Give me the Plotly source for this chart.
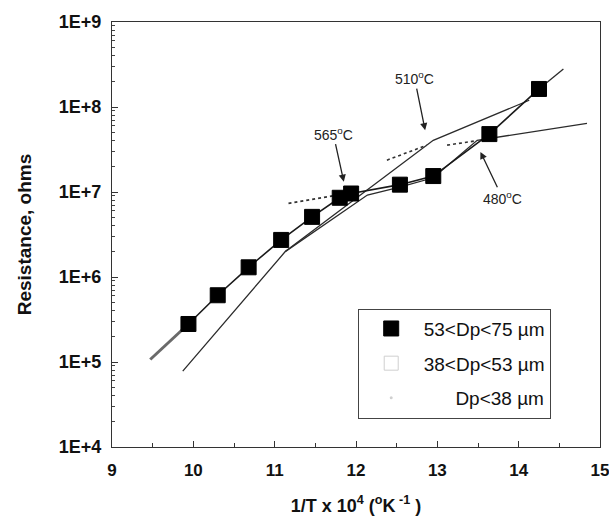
import plotly.graph_objects as go

# ---- data ----
# measured points, 53<Dp<75 um
x_sq = [9.94, 10.30, 10.68, 11.08, 11.46, 11.80, 11.94, 12.54, 12.95, 13.64, 14.25]
y_sq = [2.8e5, 6.1e5, 1.30e6, 2.73e6, 5.1e6, 8.55e6, 9.6e6, 1.22e7, 1.54e7, 4.8e7, 1.63e8]

# extensions of the line through the squares
x_ext_lo = [9.47, 9.94]
y_ext_lo = [1.07e5, 2.8e5]
x_ext_hi = [14.25, 14.55]
y_ext_hi = [1.63e8, 2.8e8]

# fitted line with 510 C break
x_fit_b = [9.87, 11.13, 12.95, 14.13]
y_fit_b = [7.8e4, 1.99e6, 4.06e7, 1.2e8]

# fitted line with 480 C break
x_fit_c = [11.13, 12.14, 12.55, 12.95, 13.49, 14.84]
y_fit_c = [1.99e6, 9.2e6, 1.15e7, 1.47e7, 4.06e7, 6.4e7]

# dotted extrapolations
x_dot_565 = [11.17, 11.80]
y_dot_565 = [7.35e6, 9.3e6]
x_dot_510 = [12.38, 12.87]
y_dot_510 = [2.37e7, 3.55e7]
x_dot_480 = [13.12, 13.46]
y_dot_480 = [3.56e7, 3.98e7]

# annotation values: label, text pos (x, log10 y), arrow head (x, log10 y)
ann_labels = ["565<sup>o</sup>C", "510<sup>o</sup>C", "480<sup>o</sup>C"]
ann_text_x = [11.72, 12.72, 13.80]
ann_text_ly = [7.687, 8.341, 6.932]
ann_head_x = [11.85, 12.85, 13.53]
ann_head_ly = [7.12, 7.727, 7.472]

y_tickvals = [1e4, 1e5, 1e6, 1e7, 1e8, 1e9]
y_ticktext = ["1E+4", "1E+5", "1E+6", "1E+7", "1E+8", "1E+9"]
x_tickvals = [9, 10, 11, 12, 13, 14, 15]

legend_names = ["53&lt;Dp&lt;75 µm", "38&lt;Dp&lt;53 µm", "\u00a0" * 6 + "Dp&lt;38 µm"]

FONT = "Liberation Sans, Arial, Helvetica, sans-serif"
LINE = "#2b2b2b"

fig = go.Figure()

# fitted lines (no legend)
fig.add_trace(go.Scatter(x=x_fit_b, y=y_fit_b, mode="lines", showlegend=False,
                         line=dict(color=LINE, width=1.3), hoverinfo="skip"))
fig.add_trace(go.Scatter(x=x_fit_c, y=y_fit_c, mode="lines", showlegend=False,
                         line=dict(color=LINE, width=1.3), hoverinfo="skip"))
for xd, yd in [(x_dot_565, y_dot_565), (x_dot_510, y_dot_510), (x_dot_480, y_dot_480)]:
    fig.add_trace(go.Scatter(x=xd, y=yd, mode="lines", showlegend=False,
                             line=dict(color="#333333", width=1.6, dash="dot"), hoverinfo="skip"))
fig.add_trace(go.Scatter(x=x_ext_lo, y=y_ext_lo, mode="lines", showlegend=False,
                         line=dict(color="#6a6a6a", width=3), hoverinfo="skip"))
fig.add_trace(go.Scatter(x=x_ext_hi, y=y_ext_hi, mode="lines", showlegend=False,
                         line=dict(color=LINE, width=1.3), hoverinfo="skip"))
# line joining the squares
fig.add_trace(go.Scatter(x=x_sq, y=y_sq, mode="lines", showlegend=False,
                         line=dict(color="#1a1a1a", width=1.6), hoverinfo="skip"))

# data series
fig.add_trace(go.Scatter(x=x_sq, y=y_sq, mode="markers", name=legend_names[0],
                         legendgroup="a",
                         marker=dict(symbol="square", size=15, color="black",
                                     line=dict(color="black", width=1))))
fig.add_trace(go.Scatter(x=[None], y=[None], mode="markers", name=legend_names[1],
                         legendgroup="b",
                         marker=dict(symbol="square-open", size=14, color="#cfcfcf",
                                     line=dict(color="#cfcfcf", width=1))))
fig.add_trace(go.Scatter(x=[None], y=[None], mode="markers", name=legend_names[2],
                         legendgroup="c",
                         marker=dict(symbol="circle", size=3, color="#d0d0d0")))

annotations = []
for i in range(len(ann_labels)):
    annotations.append(dict(x=ann_head_x[i], y=ann_head_ly[i], xref="x", yref="y",
                            ax=ann_text_x[i], ay=ann_text_ly[i], axref="x", ayref="y",
                            text=ann_labels[i], showarrow=True, arrowhead=2, arrowsize=1.1,
                            arrowwidth=1.3, arrowcolor="#222", standoff=0,
                            font=dict(family=FONT, size=14, color="#222")))

minor_y = [m * 10 ** k for k in range(4, 9) for m in range(2, 10)]

fig.update_layout(
    width=609, height=522,
    margin=dict(l=112, r=9, t=22, b=75, autoexpand=False),
    paper_bgcolor="white", plot_bgcolor="white",
    font=dict(family=FONT, color="#111"),
    annotations=annotations,
    legend=dict(x=0.5035, y=0.3256, xanchor="left", yanchor="top",
                bgcolor="white", bordercolor="#444", borderwidth=1,
                font=dict(family=FONT, size=19, color="#111"),
                itemwidth=55, traceorder="grouped", tracegroupgap=7),
    xaxis=dict(range=[9, 15], tickmode="array", tickvals=x_tickvals,
               automargin=False,
               ticks="inside", ticklen=6, tickcolor="#333",
               minor=dict(tickmode="array", tickvals=[9.5, 10.5, 11.5, 12.5, 13.5, 14.5],
                          ticks="inside", ticklen=4, tickcolor="#333"),
               showgrid=False, zeroline=False,
               showline=True, linecolor="#333", linewidth=1.2, mirror=True,
               tickfont=dict(family=FONT, size=17, color="#111", weight="bold"),
               ticklabelstandoff=7, ticklabeloverflow="allow",
               title=dict(text="1/T x 10<sup>4</sup> (<sup>o</sup>K<sup> -1</sup> )",
                          font=dict(family=FONT, size=18, color="#111", weight="bold"),
                          standoff=20)),
    yaxis=dict(type="log", range=[4, 9], tickmode="array",
               tickvals=y_tickvals, ticktext=y_ticktext,
               automargin=False,
               ticks="inside", ticklen=6, tickcolor="#333",
               minor=dict(tickmode="array", tickvals=minor_y,
                          ticks="inside", ticklen=3, tickcolor="#444"),
               showgrid=False, zeroline=False,
               showline=True, linecolor="#333", linewidth=1.2, mirror=True,
               tickfont=dict(family=FONT, size=18, color="#111", weight="bold"),
               ticklabelstandoff=6,
               title=dict(text="Resistance, ohms",
                          font=dict(family=FONT, size=19, color="#111", weight="bold"),
                          standoff=22)),
)

fig.write_html("out.html")
